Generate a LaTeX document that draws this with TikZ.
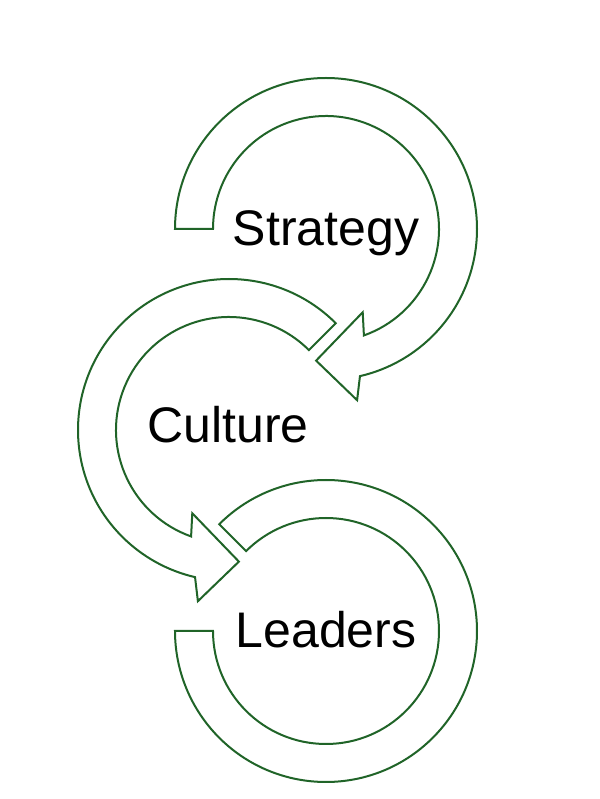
\documentclass[tikz,border=0pt]{standalone}
\usepackage{fontspec}
\setmainfont{Liberation Sans}
\usepackage{tikz}
\usetikzlibrary{calc}
\definecolor{ringgreen}{RGB}{32,100,40}

\begin{document}
\begin{tikzpicture}[x=0.5pt, y=0.5pt,
    arrow_band/.style ={draw=ringgreen, line width=1pt, fill=white, line join=miter},
    label_text/.style ={anchor=base, text=black, inner sep=0pt,
      font={\fontsize{25pt}{30pt}\selectfont}}]
    \useasboundingbox (0,0) rectangle (600,799);
    % centres of the three rings
    \coordinate (cA) at (326,570);
    \coordinate (cB) at (229,369);
    \coordinate (cC) at (326,168);
    % arrow 1 - strategy
    \path[arrow_band] ($(cA)+(180:151)$) arc[start angle=180, end angle=-77, radius=151]
      -- ($(cA)+(-79.7:174)$) -- ($(cA)+(-94.3:132)$) -- ($(cA)+(-66.2:91)$)
      -- ($(cA)+(-70.4:113)$) arc[start angle=-70.4, end angle=180, radius=113] -- cycle;
    % arrow 2 - culture
    \path[arrow_band] ($(cB)+(45:151)$) arc[start angle=45, end angle=257, radius=151]
      -- ($(cB)+(259.7:174)$) -- ($(cB)+(274.3:132)$) -- ($(cB)+(246.2:91)$)
      -- ($(cB)+(250.4:113)$) arc[start angle=250.4, end angle=45, radius=113] -- cycle;
    % ring 3 - leaders
    \path[arrow_band] ($(cC)+(135:151)$) arc[start angle=135, end angle=-180, radius=151]
      -- ($(cC)+(180:113)$) arc[start angle=-180, end angle=135, radius=113] -- cycle;
    % labels
    \node[label_text] (strategy) at (326,553) {Strategy};
    \node[label_text] (culture) at (228,356) {Culture};
    \node[label_text] (leaders) at (326,151) {Leaders};
  \end{tikzpicture}
\end{document}
